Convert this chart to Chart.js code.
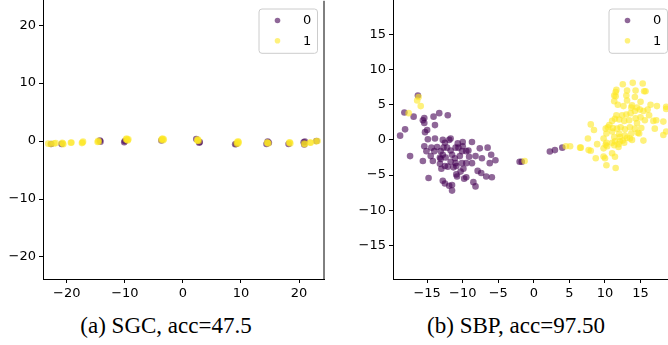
<!DOCTYPE html>
<html>
<head>
<meta charset="utf-8">
<script src="https://cdn.jsdelivr.net/npm/chart.js@4.4.0/dist/chart.umd.min.js"></script>
<style>
  html, body { margin: 0; padding: 0; background: #fff; width: 668px; height: 345px; overflow: hidden; position: relative; }
  canvas { position: absolute; }
  #cvA { left: 0; top: -10px; }
  #cvB { left: 340px; top: -10px; }
  .cap { position: absolute; top: 314px; font-family: "Liberation Serif", "Times New Roman", serif; font-size: 23px; line-height: 23px; color: #000; white-space: nowrap; transform: translateX(-50%); }
</style>
</head>
<body>
<canvas id="cvA" width="340" height="320"></canvas>
<canvas id="cvB" width="350" height="320"></canvas>
<div class="cap" style="left:166px">(a) SGC, acc=47.5</div>
<div class="cap" style="left:516px">(b) SBP, acc=97.50</div>
<script>
// legend labels
const classLabels = ['0', '1'];

// (a) SGC embedding: points collapse onto a line
const sgcClass0 = [
  [-22.7, -0.5], [-20.9, -0.5], [-14.2, -0.1], [-14.3, 0.1], [-10.1, -0.2], [-10.0, 0.0],
  [-3.7, 0.1], [2.3, 0.35], [2.9, -0.15], [2.8, -0.3], [9.0, -0.55], [9.2, -0.5],
  [14.4, -0.5], [14.8, -0.3], [14.6, -0.1], [18.2, -0.5], [20.8, -0.2], [20.9, -0.6],
  [21.0, -0.1], [23.0, 0.0]
];
const sgcClass1 = [
  [-23.2, -0.45], [-22.8, -0.5], [-22.2, -0.4], [-21.9, -0.35],
  [-20.8, -0.3], [-20.6, -0.55], [-20.7, -0.4], [-19.3, -0.3], [-19.2, -0.25],
  [-17.4, -0.35], [-17.2, -0.1], [-17.3, -0.25], [-14.7, -0.15], [-14.6, 0.05], [-14.5, -0.1],
  [-9.8, 0.3], [-9.5, 0.1], [-9.7, 0.45], [-9.6, 0.2], [-9.4, 0.3],
  [-3.6, 0.35], [-3.4, 0.15], [-3.5, 0.45], [-3.3, 0.3], [-3.7, 0.2],
  [2.5, 0.2], [2.7, 0.0], [2.6, 0.25], [2.5, 0.05],
  [9.3, -0.2], [9.5, -0.4], [9.6, -0.2], [9.3, -0.45], [9.5, -0.05],
  [14.6, -0.3], [14.7, -0.4], [14.5, -0.25], [18.3, -0.3], [18.5, -0.4], [18.4, -0.2],
  [20.9, -0.45], [21.0, -0.55], [22.0, -0.3], [21.9, -0.25], [22.9, -0.05], [23.2, 0.0]
];
const sgcXTicks = [-20, -10, 0, 10, 20];
const sgcYTicks = [-20, -10, 0, 10, 20];

// (b) SBP embedding: two separated clusters
const sbpClass0 = [
  [-16.3, 6.3], [-18.2, 3.9], [-16.9, 3.3], [-18.8, 0.6], [-18.1, 1.5], [-17.4, -2.3],
  [-15.6, 2.8], [-15.4, 3.1], [-15.4, 2.4], [-13.3, 3.8], [-12.1, 3.5], [-14.1, 3.3],
  [-13.9, 2.1], [-15.0, 1.4], [-15.3, 1.1], [-14.9, 0.1], [-13.9, 0.2], [-15.6, -3.0],
  [-14.8, -5.4], [-15.4, -0.9], [-15.1, -1.6], [-14.4, -1.1], [-14.5, -2.3], [-13.6, -1.0],
  [-14.0, -1.6], [-13.1, -1.6], [-12.8, -2.1], [-13.2, -2.5], [-12.8, 0.0], [-12.5, -0.4],
  [-11.9, 0.0], [-11.7, 0.2], [-12.7, -1.1], [-12.2, -1.1], [-11.7, -1.5], [-11.0, -1.1],
  [-11.5, -2.1], [-11.1, -2.6], [-10.6, -1.1], [-10.7, -0.5], [-10.0, -0.3], [-10.0, -0.9],
  [-10.1, -1.6], [-10.4, -2.3], [-11.0, -3.3], [-10.9, -3.7], [-12.5, -3.7], [-13.0, -4.1],
  [-12.1, -3.8], [-12.4, -2.5], [-13.1, -2.7], [-11.7, -3.1], [-9.5, -1.6], [-9.2, -1.5],
  [-8.7, -0.3], [-9.1, -2.4], [-9.5, -3.3], [-9.9, -4.1], [-10.3, -4.5], [-10.9, -4.9],
  [-10.8, -5.2], [-9.8, -5.5], [-9.5, -5.3], [-8.7, -3.3], [-8.2, -2.3], [-7.6, -1.2],
  [-7.3, -2.6], [-6.5, -1.1], [-6.0, -2.1], [-6.2, -3.3], [-5.4, -2.9], [-7.9, -4.4],
  [-7.4, -4.7], [-6.7, -5.2], [-5.9, -5.3], [-8.5, -6.0], [-8.2, -6.6], [-12.8, -5.8],
  [-12.5, -6.2], [-11.9, -6.5], [-11.5, -6.4], [-11.5, -7.2], [-14.2, -3.0], [-13.2, -3.4],
  [-10.1, -3.3], [-11.3, -3.9], [-2.0, -3.1], [-1.7, -3.1], [2.25, -1.65], [2.96, -1.45],
  [4.0, -1.1]
];
const sbpClass1 = [
  [-16.4, 5.6], [-15.9, 4.8], [-17.6, 3.8], [-16.2, 6.1], [-1.3, -3.0], [4.5, -0.9],
  [5.1, -0.9], [6.5, -1.1],
  [12.5, 7.9], [13.9, 8.1], [15.3, 8.0], [11.6, 7.1], [11.5, 6.8], [11.5, 6.2], [11.3, 6.3],
  [13.1, 7.0], [14.3, 7.0], [15.7, 6.9], [15.5, 6.9], [13.0, 6.3], [14.2, 6.1], [11.8, 5.0],
  [11.3, 5.5], [13.1, 5.6], [15.0, 5.4], [12.6, 4.8], [13.7, 4.6], [14.5, 4.6], [13.8, 4.9],
  [16.4, 5.0], [17.3, 4.8], [18.6, 4.7], [18.6, 4.4], [16.0, 4.3], [11.6, 3.5], [12.4, 3.5],
  [13.0, 3.6], [13.6, 3.8], [14.2, 4.1], [14.9, 4.3], [15.4, 4.1], [11.4, 3.0], [12.0, 2.9],
  [12.7, 2.7], [13.4, 2.8], [14.3, 3.05], [15.0, 3.2], [15.6, 2.8], [16.2, 3.5], [16.8, 2.7],
  [17.2, 2.8], [18.2, 2.6], [11.0, 2.7], [10.6, 2.1], [11.1, 1.7], [10.1, 1.6], [10.4, 1.8],
  [11.7, 1.6], [12.2, 1.8], [12.8, 1.5], [13.5, 1.8], [14.2, 1.6], [14.5, 2.4], [10.2, 0.9],
  [11.0, 1.2], [12.0, 0.85], [12.8, 0.6], [13.7, 0.9], [14.8, 0.9], [13.5, 0.2], [15.1, 1.7],
  [17.0, 1.6], [18.6, 1.2], [18.2, 0.7], [8.0, 2.2], [8.45, 1.4], [7.6, 0.2], [9.8, 0.2],
  [10.2, -0.4], [11.0, -0.4], [11.4, -0.2], [12.1, -0.2], [12.5, -0.1], [11.3, 0.4],
  [12.1, 0.4], [13.1, 0.3], [13.8, 0.0], [15.4, -0.1], [14.6, 1.0], [6.6, -1.1], [8.9, -0.6],
  [10.1, -0.7], [7.7, -1.45], [8.0, -1.55], [9.8, -1.2], [10.3, -0.9], [11.3, -0.75],
  [11.9, -1.0], [12.7, -0.4], [8.7, -2.6], [9.8, -2.35], [10.0, -2.6], [11.0, -1.9],
  [11.4, -2.4], [10.2, -3.6], [11.5, -4.0], [11.9, -0.6]
];
const sbpXTicks = [-15, -10, -5, 0, 5, 10, 15];
const sbpYTicks = [-15, -10, -5, 0, 5, 10, 15];

const purple = 'rgba(68, 1, 84, 0.6)';
const yellow = 'rgba(253, 231, 37, 0.6)';

Chart.defaults.font.family = '"DejaVu Sans", sans-serif';
Chart.defaults.font.size = 13;
Chart.defaults.color = '#000';

const fmt = v => (v < 0 ? '\u2212' + Math.abs(v) : String(v));

// draws the legend box and the right spine
const panelDecor = {
  id: 'panelDecor',
  afterDraw(chart, args, opts) {
    const ctx = chart.ctx;
    const a = chart.chartArea;
    ctx.save();
    if (opts.rightSpine) {
      ctx.strokeStyle = '#000';
      ctx.lineWidth = 1;
      ctx.beginPath();
      ctx.moveTo(a.right, a.top);
      ctx.lineTo(a.right, a.bottom + 0.5);
      ctx.stroke();
    }
    const bx = a.right - 65.5, by = a.top + 7.7, bw = 58.5, bh = 44.3;
    ctx.beginPath();
    ctx.roundRect(bx + 0.5, by + 0.5, bw, bh, 3);
    ctx.fillStyle = 'rgba(255,255,255,0.8)';
    ctx.fill();
    ctx.strokeStyle = '#cccccc';
    ctx.lineWidth = 1;
    ctx.stroke();
    [purple, yellow].forEach((c, i) => {
      const cy = by + 12 + 20.3 * i;
      ctx.beginPath();
      ctx.arc(bx + 19, cy, 2.8, 0, Math.PI * 2);
      ctx.fillStyle = c;
      ctx.fill();
      ctx.fillStyle = '#000';
      ctx.font = '13px "DejaVu Sans"';
      ctx.textBaseline = 'middle';
      ctx.textAlign = 'left';
      ctx.fillText(classLabels[i], bx + 44.5, cy + 0.5);
    });
    ctx.restore();
  }
};

function makePanel(id, cls0, cls1, xMin, xMax, yMin, yMax, xTicks, yTicks, yAxisW, rightSpine) {
  const axisCommon = {
    type: 'linear',
    grid: { drawOnChartArea: false, drawTicks: true, tickLength: 4, color: '#000', lineWidth: 1 },
    border: { display: true, color: '#000', width: 1 },
  };
  return new Chart(document.getElementById(id), {
    type: 'scatter',
    data: {
      datasets: [
        { label: classLabels[1], data: cls1.map(p => ({ x: p[0], y: p[1] })), backgroundColor: yellow, pointRadius: 3.3, borderWidth: 0, order: 0 },
        { label: classLabels[0], data: cls0.map(p => ({ x: p[0], y: p[1] })), backgroundColor: purple, pointRadius: 3.3, borderWidth: 0, order: 1 }
      ]
    },
    options: {
      responsive: false,
      devicePixelRatio: 1,
      animation: false,
      events: [],
      layout: { padding: { top: 9, right: 16, left: 0, bottom: 0 } },
      scales: {
        x: {
          ...axisCommon,
          min: xMin, max: xMax,
          afterBuildTicks: s => { s.ticks = xTicks.map(v => ({ value: v })); },
          afterFit: s => { s.height = 31; },
          ticks: { callback: fmt, padding: 3, maxRotation: 0, autoSkip: false }
        },
        y: {
          ...axisCommon,
          min: yMin, max: yMax,
          afterBuildTicks: s => { s.ticks = yTicks.map(v => ({ value: v })); },
          afterFit: s => { s.width = yAxisW; },
          ticks: { callback: fmt, padding: 3, autoSkip: false }
        }
      },
      plugins: {
        legend: { display: false },
        tooltip: { enabled: false },
        panelDecor: { rightSpine: rightSpine }
      }
    },
    plugins: [panelDecor]
  });
}

makePanel('cvA', sgcClass0, sgcClass1, -24.1, 24.3, -23.8, 24.2, sgcXTicks, sgcYTicks, 43, true);
makePanel('cvB', sbpClass0, sbpClass1, -19.8, 19.7, -19.75, 19.75, sbpXTicks, sbpYTicks, 53, false);
</script>
</body>
</html>
